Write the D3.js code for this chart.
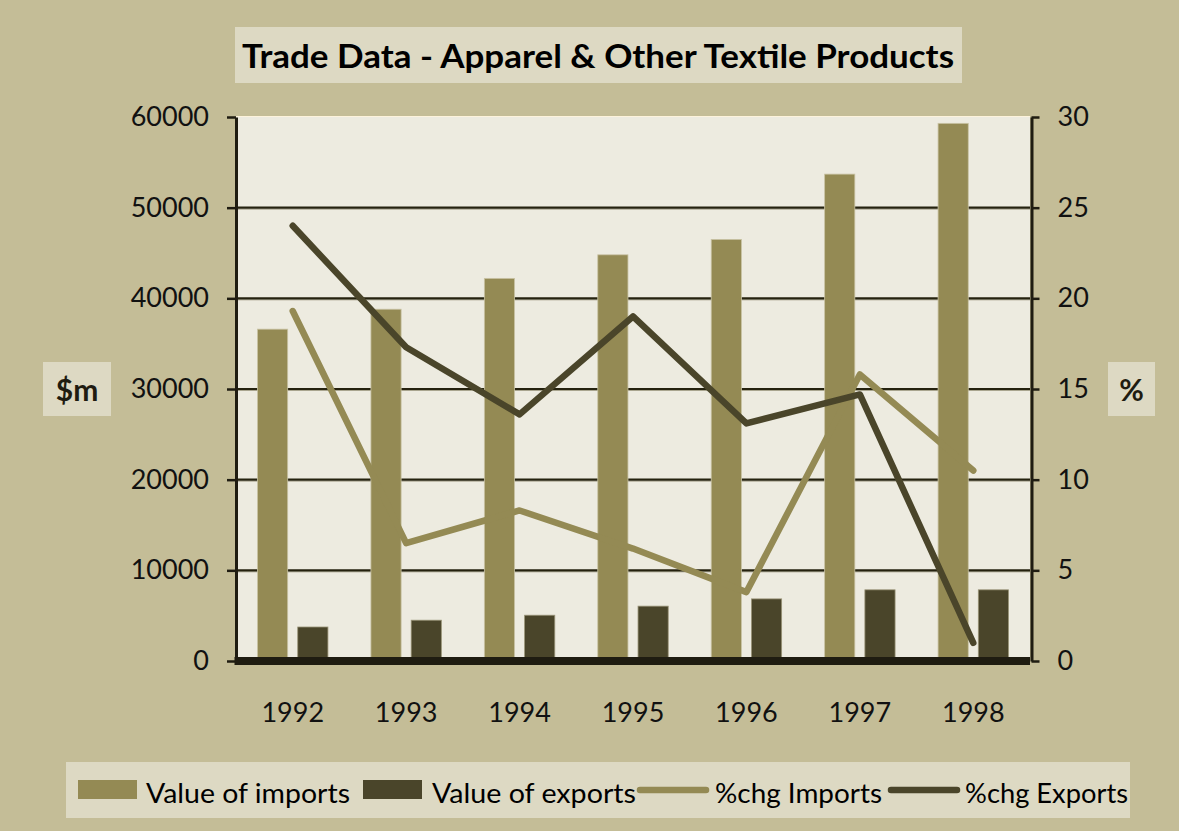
<!DOCTYPE html>
<html lang="en">
<head>
  <meta charset="UTF-8">
  <title>Trade Data - Apparel & Other Textile Products</title>
  <script src="https://d3js.org/d3.v7.min.js"></script>
  <style>
    body {
      margin: 0;
      background-color: #c4bd97;
      font-family: Lato, "Open Sans", sans-serif;
    }
    svg {
      display: block;
    }
  </style>
</head>
<body>
<svg width="1179" height="831"></svg>

<script>
  // chart data
  const years = ["1992", "1993", "1994", "1995", "1996", "1997", "1998"];
  const valueImports = [36600, 38800, 42200, 44800, 46500, 53700, 59300];
  const valueExports = [3750, 4500, 5050, 6050, 6850, 7850, 7850];
  const chgImports = [19.3, 6.5, 8.3, 6.2, 3.8, 15.8, 10.5];
  const chgExports = [24.0, 17.3, 13.6, 19.0, 13.1, 14.7, 1.0];
  const leftTicks = [0, 10000, 20000, 30000, 40000, 50000, 60000];
  const rightTicks = [0, 5, 10, 15, 20, 25, 30];

  const colImports = "#948a54";
  const colExports = "#4a452a";
  const ink = "#1f1c11";

  const svg = d3.select("svg");
  const plot = { left: 236, right: 1030, top: 117, bottom: 661 };

  const x0 = d3.scaleBand().domain(years).range([plot.left, plot.right]).padding(0);
  const x1 = d3.scaleBand().domain(["imports", "exports"])
    .range([21.5, x0.bandwidth() - 21.5]).paddingInner(0.25);
  const yLeft = d3.scaleLinear().domain([0, 60000]).range([plot.bottom, plot.top]);
  const yRight = d3.scaleLinear().domain([0, 30]).range([plot.bottom, plot.top]);

  // fit text to a measured width (the original font is narrower than Lato)
  function fitWidth(sel, w) {
    sel.each(function() {
      const len = this.getComputedTextLength();
      if (len > 0) d3.select(this).attr("textLength", w).attr("lengthAdjust", "spacingAndGlyphs");
    });
  }

  // title box
  svg.append("rect").attr("x", 235).attr("y", 27).attr("width", 727).attr("height", 56)
    .attr("fill", "#ddd9c3");
  svg.append("text").attr("x", 598).attr("y", 68).attr("text-anchor", "middle")
    .style("font-size", "32px").style("font-weight", "bold").attr("fill", "#000")
    .text("Trade Data - Apparel & Other Textile Products")
    .call(fitWidth, 712);

  // plot background
  svg.append("rect").attr("x", plot.left).attr("y", plot.top - 1)
    .attr("width", plot.right - plot.left).attr("height", plot.bottom - plot.top + 1)
    .attr("fill", "#fdf3dc");
  svg.append("rect").attr("x", plot.left).attr("y", plot.top)
    .attr("width", plot.right - plot.left).attr("height", plot.bottom - plot.top)
    .attr("fill", "#edebe0");

  // gridlines
  const grid = svg.append("g");
  leftTicks.filter(d => d > 0 && d < 60000).forEach(d => {
    grid.append("line").attr("x1", plot.left).attr("x2", plot.right)
      .attr("y1", yLeft(d) + 1.5).attr("y2", yLeft(d) + 1.5)
      .attr("stroke", "#a9a58f").attr("stroke-width", 1);
    grid.append("line").attr("x1", plot.left).attr("x2", plot.right)
      .attr("y1", yLeft(d)).attr("y2", yLeft(d))
      .attr("stroke", "#25220f").attr("stroke-width", 2.2);
  });

  // bars
  const groups = svg.append("g").selectAll("g")
    .data(years)
    .join("g")
    .attr("transform", d => `translate(${x0(d)},0)`);

  groups.append("rect")
    .attr("x", x1("imports"))
    .attr("width", x1.bandwidth())
    .attr("y", (d, i) => yLeft(valueImports[i]))
    .attr("height", (d, i) => plot.bottom - yLeft(valueImports[i]))
    .attr("fill", colImports)
    .attr("stroke", "#c9c3a4").attr("stroke-width", 0.8);

  groups.append("rect")
    .attr("x", x1("exports"))
    .attr("width", x1.bandwidth())
    .attr("y", (d, i) => yLeft(valueExports[i]))
    .attr("height", (d, i) => plot.bottom - yLeft(valueExports[i]))
    .attr("fill", colExports)
    .attr("stroke", "#9a9478").attr("stroke-width", 0.8);

  // lines
  const line = d3.line()
    .x((d, i) => x0(years[i]) + x0.bandwidth() / 2)
    .y(d => yRight(d));

  [[chgImports, colImports], [chgExports, colExports]].forEach(([vals, c]) => {
    svg.append("path")
      .datum(vals)
      .attr("d", line)
      .attr("fill", "none")
      .attr("stroke", c)
      .attr("stroke-width", 6.5)
      .attr("stroke-linecap", "round")
      .attr("stroke-linejoin", "round");
  });

  // left axis
  const axL = svg.append("g")
    .attr("transform", `translate(${plot.left},0)`)
    .call(d3.axisLeft(yLeft).tickValues(leftTicks).tickFormat(d3.format("d"))
      .tickSize(9).tickSizeOuter(0).tickPadding(18));
  axL.select(".domain").attr("stroke", ink).attr("stroke-width", 3);
  axL.selectAll(".tick line").attr("stroke", ink).attr("stroke-width", 2.5);
  axL.selectAll("text").style("font-size", "27px").style("font-family", "Lato").attr("fill", "#111");

  // right axis
  const axR = svg.append("g")
    .attr("transform", `translate(${plot.right + 1.5},0)`)
    .call(d3.axisRight(yRight).tickValues(rightTicks)
      .tickSize(8).tickSizeOuter(0).tickPadding(18));
  axR.select(".domain").attr("stroke", ink).attr("stroke-width", 3);
  axR.selectAll(".tick line").attr("stroke", ink).attr("stroke-width", 2.5);
  axR.selectAll("text").style("font-size", "27px").style("font-family", "Lato").attr("fill", "#111");

  // bottom axis
  svg.append("rect").attr("x", plot.left - 1.5).attr("y", plot.bottom - 4)
    .attr("width", plot.right - plot.left + 1.5).attr("height", 8).attr("fill", ink);
  const axB = svg.append("g")
    .attr("transform", `translate(0,${plot.bottom})`)
    .call(d3.axisBottom(x0).tickSize(0).tickPadding(42));
  axB.select(".domain").remove();
  axB.selectAll("text").style("font-size", "27px").style("font-family", "Lato").attr("fill", "#111");

  // axis titles
  svg.append("rect").attr("x", 43).attr("y", 362).attr("width", 68).attr("height", 54).attr("fill", "#ddd9c3");
  svg.append("text").attr("x", 77).attr("y", 401).attr("text-anchor", "middle")
    .style("font-size", "30px").style("font-weight", "bold").attr("fill", ink).text("$m");
  svg.append("rect").attr("x", 1108).attr("y", 362).attr("width", 47).attr("height", 54).attr("fill", "#ddd9c3");
  svg.append("text").attr("x", 1131.5).attr("y", 401).attr("text-anchor", "middle")
    .style("font-size", "30px").style("font-weight", "bold").attr("fill", ink).text("%");

  // legend
  svg.append("rect").attr("x", 66).attr("y", 762).attr("width", 1064).attr("height", 56).attr("fill", "#ddd9c3");
  const legendItems = [
    { label: "Value of imports", kind: "bar", color: colImports, sx: 78, tx: 146, tw: 204 },
    { label: "Value of exports", kind: "bar", color: colExports, sx: 363, tx: 432, tw: 204 },
    { label: "%chg Imports", kind: "line", color: colImports, sx: 640, tx: 715, tw: 167 },
    { label: "%chg Exports", kind: "line", color: colExports, sx: 891, tx: 965, tw: 163 }
  ];
  const lg = svg.append("g");
  legendItems.forEach(it => {
    if (it.kind === "bar") {
      lg.append("rect").attr("x", it.sx).attr("y", 780).attr("width", 59).attr("height", 19).attr("fill", it.color);
    } else {
      lg.append("line").attr("x1", it.sx).attr("x2", it.sx + 66).attr("y1", 790).attr("y2", 790)
        .attr("stroke", it.color).attr("stroke-width", 6.5).attr("stroke-linecap", "round");
    }
    lg.append("text").attr("x", it.tx).attr("y", 803)
      .style("font-size", "27px").attr("fill", "#000").text(it.label)
      .call(fitWidth, it.tw);
  });
</script>

</body>
</html>
